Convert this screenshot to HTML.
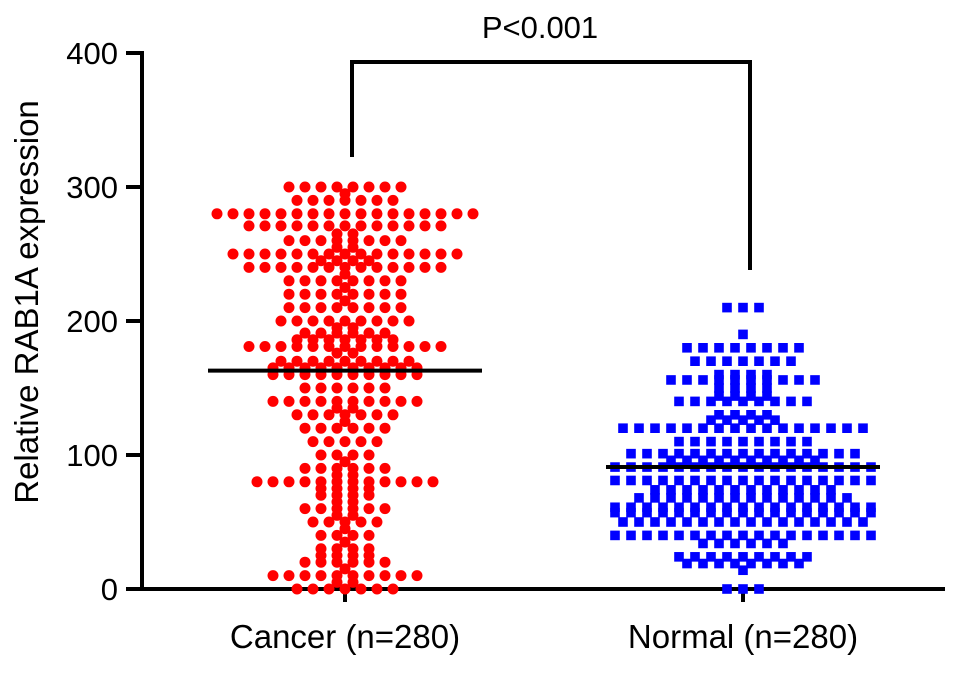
<!DOCTYPE html>
<html><head><meta charset="utf-8"><style>
body{margin:0;background:#fff}
svg text{font-family:"Liberation Sans",Arial,sans-serif;fill:#000}
</style></head><body>
<svg id="chart" width="969" height="669" viewBox="0 0 969 669">
<g id="axes"></g><g id="marks"></g>
</svg>
<script>
const categories=["Cancer (n=280)","Normal (n=280)"];
const yTicks=[0,100,200,300,400];
const cancerLevels=[300,295,290,280,271,265,260,255,250,245,240,235,230,225,220,215,210,200,195,191,186,181,176,170,165,160,150,140,135,130,125,120,110,100,95,90,85,80,75,70,65,60,55,50,45,40,35,30,25,20,15,10,5,0];
const cancerCounts=[8,1,7,17,13,2,8,2,15,4,13,1,8,1,8,1,8,9,2,6,7,13,2,9,10,10,6,10,2,7,1,6,5,4,1,6,2,12,4,4,2,6,2,5,1,4,1,4,4,6,1,10,2,7];
const normalLevels=[210,190,180,170,160,156,150,144,140,130,126,120,110,101,96,91,81,74,68,61,57,50,40,34,24,19,14,0];
const normalCounts=[3,1,8,7,4,10,4,4,9,4,5,16,9,15,10,17,17,12,14,17,17,16,17,6,9,8,1,3];
const means=[163,91];
const pLabel="P<0.001";
const NS="http://www.w3.org/2000/svg";
const y0=589,yScale=536/400;
function yPx(v){return y0-v*yScale;}
const centers=[345,743];
function xPx(i){return centers[i];}
const axes=document.getElementById('axes'),marks=document.getElementById('marks');
function el(tag,attrs,parent){const e=document.createElementNS(NS,tag);for(const k in attrs)e.setAttribute(k,attrs[k]);parent.appendChild(e);return e;}
let yl=el('line',{x1:142,y1:yPx(400)-2,x2:142,y2:y0+2,stroke:'#000','stroke-width':4},axes);


let xl=el('line',{x1:140,y1:y0,x2:945,y2:y0,stroke:'#000','stroke-width':4},axes);


yTicks.forEach(t=>{
 let tk=el('line',{x1:126,y1:yPx(t),x2:142,y2:yPx(t),stroke:'#000','stroke-width':4},axes);
 
 
 let tx=el('text',{x:118,y:yPx(t)+11,'text-anchor':'end','font-size':31},axes);tx.textContent=t;
 
 
});
categories.forEach((c,i)=>{
 let tk=el('line',{x1:xPx(i),y1:y0,x2:xPx(i),y2:y0+13,stroke:'#000','stroke-width':4},axes);
 
 
 let tx=el('text',{x:xPx(i),y:648,'text-anchor':'middle','font-size':33},axes);tx.textContent=c;
 
 
});
let yt=el('text',{x:0,y:0,'text-anchor':'middle','font-size':33,transform:'translate(38,302) rotate(-90)'},axes);
yt.textContent='Relative RAB1A expression';


function drawGroup(levels,counts,gi,shape,color){
 levels.forEach((v,li)=>{
  const n=counts[li];
  for(let k=0;k<n;k++){
   const x=xPx(gi)+(k-(n-1)/2)*16,y=yPx(v);
   let p;
   if(shape==='circle'){p=el('circle',{cx:x,cy:y,r:5.5,fill:color},marks);}
   else{p=el('rect',{x:x-4.8,y:y-4.8,width:9.6,height:9.6,fill:color},marks);}
   
   
  }
 });
}
drawGroup(cancerLevels,cancerCounts,0,'circle','#ff0000');
drawGroup(normalLevels,normalCounts,1,'rect','#0000ff');
means.forEach((m,i)=>{
 let l=el('line',{x1:xPx(i)-137,y1:yPx(m),x2:xPx(i)+137,y2:yPx(m),stroke:'#000','stroke-width':4},marks);
 
 
});
let br=el('polyline',{points:`352,157 352,62 750,62 750,270`,fill:'none',stroke:'#000','stroke-width':4},marks);


let pt=el('text',{x:540,y:38,'text-anchor':'middle','font-size':31},marks);pt.textContent=pLabel;


</script>
</body></html>
